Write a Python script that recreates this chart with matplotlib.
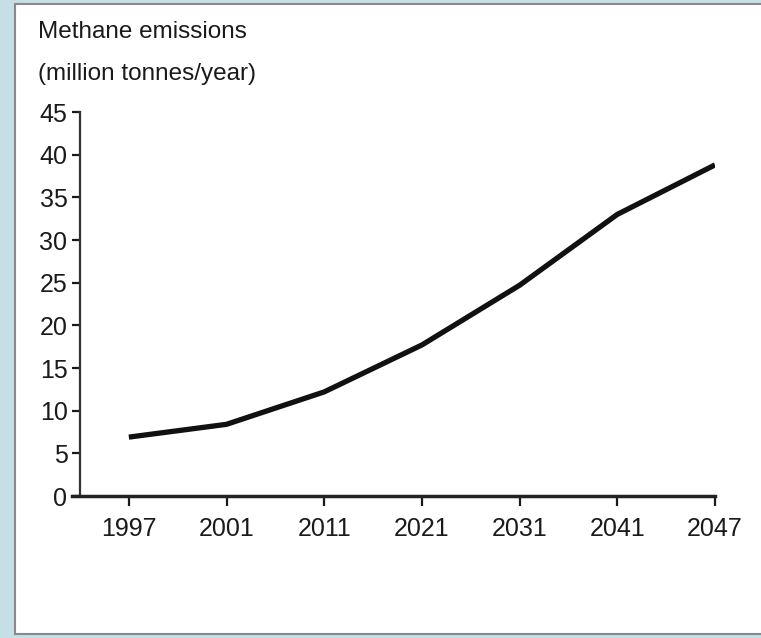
import matplotlib.pyplot as plt
from matplotlib.patches import Rectangle

years = ['1997', '2001', '2011', '2021', '2031', '2041', '2047']
emissions = [6.9, 8.4, 12.2, 17.7, 24.7, 33.0, 38.8]
yticks = [0, 5, 10, 15, 20, 25, 30, 35, 40, 45]

plt.rcParams['font.family'] = ['Liberation Sans', 'DejaVu Sans']

fig = plt.figure(figsize=(7.61, 6.38), dpi=100, facecolor='#c6dee6')
# white panel with grey frame
fig.patches.append(Rectangle((15 / 761, 4 / 638), 750 / 761, 630 / 638,
                             transform=fig.transFigure, facecolor='white',
                             edgecolor='#8a8a8a', linewidth=1.5, zorder=-5))

ax = fig.add_axes([80 / 761, 142 / 638, 635 / 761, 384 / 638])
ax.set_facecolor('none')
x = range(len(years))
ax.plot(x, emissions, color='#111111', linewidth=3.8, solid_capstyle='butt')

ax.set_xlim(-0.5, len(years) - 1)
ax.set_ylim(0, 45)
ax.set_xticks(list(x))
ax.set_xticklabels(years)
ax.set_yticks(yticks)

for s in ['top', 'right']:
    ax.spines[s].set_visible(False)
ax.spines['left'].set_linewidth(1.6)
ax.spines['bottom'].set_linewidth(2.5)
ax.spines['left'].set_color('#333333')
ax.spines['bottom'].set_color('#222222')
ax.spines['bottom'].set_bounds(-0.5 - 8 / 635 * 6.5, len(years) - 1)

ax.tick_params(axis='x', direction='out', length=7, width=1.6, labelsize=18,
               pad=8, colors='#1a1a1a')
ax.tick_params(axis='y', direction='out', length=6, width=1.6, labelsize=18,
               pad=3, colors='#1a1a1a')

fig.text(38 / 761, 1 - 32 / 638, 'Methane emissions', fontsize=17.5,
         color='#1a1a1a', va='center', ha='left')
fig.text(38 / 761, 1 - 74 / 638, '(million tonnes/year)', fontsize=17.5,
         color='#1a1a1a', va='center', ha='left')

fig.savefig('out.png', dpi=100, facecolor=fig.get_facecolor())
